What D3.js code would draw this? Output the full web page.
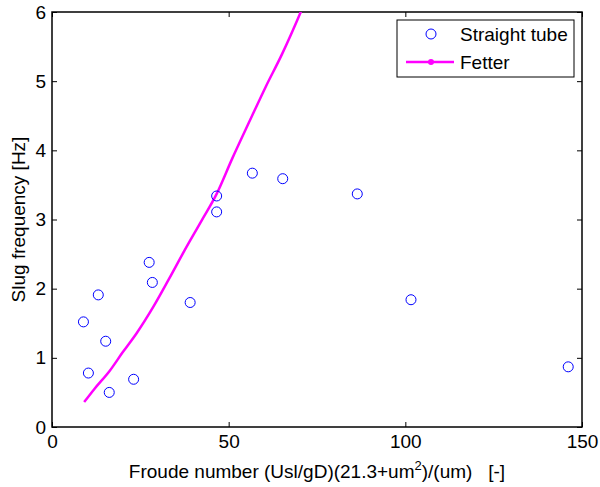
<!DOCTYPE html>
<html lang="en">
<head>
<meta charset="utf-8">
<title>Slug frequency</title>
<script src="https://d3js.org/d3.v7.min.js"></script>
<style>
  body { margin: 0; background: #fff; }
  text { font-family: "Liberation Sans", Arial, sans-serif; fill: #000; }
</style>
</head>
<body>
<script>
// measured points (Straight tube)
const froude = [8.9, 10.3, 13.1, 15.2, 16.2, 23.1, 27.5, 28.4, 39.1, 46.6, 46.6, 56.7, 65.3, 86.4, 101.6, 146.1];
const freq   = [1.52, 0.78, 1.91, 1.24, 0.50, 0.69, 2.38, 2.09, 1.80, 3.34, 3.11, 3.67, 3.59, 3.37, 1.84, 0.87];

// Fetter correlation
const fetterX = [9.1, 12, 16.3, 20, 24, 28.7, 33, 37.6, 42.3, 46.6, 51, 56, 60.5, 65, 70.4, 74];
const fetterY = [0.36, 0.55, 0.81, 1.08, 1.36, 1.74, 2.13, 2.56, 2.98, 3.37, 3.88, 4.43, 4.92, 5.38, 6.0, 6.45];

const xTicks = [0, 50, 100, 150];
const yTicks = [0, 1, 2, 3, 4, 5, 6];

const w = 600, h = 487;
const m = {left: 52, top: 12, right: 18, bottom: 60};
const fs = "19px";

const svg = d3.select("body").append("svg")
  .attr("width", w).attr("height", h);

const x = d3.scaleLinear().domain([0, 150]).range([m.left, w - m.right]);
const y = d3.scaleLinear().domain([0, 6]).range([h - m.bottom, m.top]);

// clip
svg.append("clipPath").attr("id", "clip")
  .append("rect")
  .attr("x", m.left).attr("y", m.top)
  .attr("width", x(150) - m.left).attr("height", y(0) - m.top);

// axes (ticks inward, mirrored)
const tk = 5;
const bottomAxis = d3.axisBottom(x).tickValues(xTicks).tickSizeInner(-tk).tickSizeOuter(0).tickPadding(8).tickFormat(d3.format("d"));
const topAxis = d3.axisTop(x).tickValues(xTicks).tickSizeInner(-tk).tickSizeOuter(0).tickFormat("");
const leftAxis = d3.axisLeft(y).tickValues(yTicks).tickSizeInner(-tk).tickSizeOuter(0).tickPadding(6).tickFormat(d3.format("d"));
const rightAxis = d3.axisRight(y).tickValues(yTicks).tickSizeInner(-tk).tickSizeOuter(0).tickFormat("");

function styleAxis(g) {
  g.select(".domain").remove();
  g.selectAll("line").attr("stroke", "#000").attr("stroke-width", 1);
  g.selectAll("text").style("font-size", fs).attr("fill", "#000");
}

svg.append("g").attr("transform", `translate(0,${y(0)})`).call(bottomAxis).call(styleAxis);
svg.append("g").attr("transform", `translate(0,${y(6)})`).call(topAxis).call(styleAxis);
svg.append("g").attr("transform", `translate(${x(0)},0)`).call(leftAxis).call(styleAxis);
svg.append("g").attr("transform", `translate(${x(150)},0)`).call(rightAxis).call(styleAxis);

// box
svg.append("rect")
  .attr("x", x(0)).attr("y", y(6))
  .attr("width", x(150) - x(0)).attr("height", y(0) - y(6))
  .attr("fill", "none").attr("stroke", "#000").attr("stroke-width", 1.5);

const view = svg.append("g").attr("clip-path", "url(#clip)");

// Fetter line
const fetter = fetterX.map((d, i) => [d, fetterY[i]]);
view.append("path")
  .datum(fetter)
  .attr("fill", "none")
  .attr("stroke", "#ff00ff")
  .attr("stroke-width", 2.5)
  .attr("d", d3.line().curve(d3.curveMonotoneX).x(d => x(d[0])).y(d => y(d[1])));

// points
const pts = froude.map((d, i) => ({fr: d, f: freq[i]}));
view.selectAll("circle.pt")
  .data(pts)
  .enter().append("circle")
  .attr("class", "pt")
  .attr("cx", d => x(d.fr))
  .attr("cy", d => y(d.f))
  .attr("r", 5)
  .attr("fill", "none")
  .attr("stroke", "#0000ff")
  .attr("stroke-width", 1);

// axis labels
const xl = svg.append("text")
  .attr("x", (x(0) + x(150)) / 2)
  .attr("y", 478)
  .attr("text-anchor", "middle")
  .style("font-size", fs);
xl.append("tspan").text("Froude number (Usl/gD)(21.3+um");
xl.append("tspan").attr("dy", -8).style("font-size", "13px").text("2");
xl.append("tspan").attr("dy", 8).text(")/(um)\u00a0\u00a0\u00a0[-]");

svg.append("text")
  .attr("transform", `translate(25,${(y(0) + y(6)) / 2}) rotate(-90)`)
  .attr("text-anchor", "middle")
  .style("font-size", fs)
  .text("Slug frequency [Hz]");

// legend
const lg = svg.append("g").attr("transform", "translate(397,20)");
lg.append("rect")
  .attr("width", 177).attr("height", 57)
  .attr("fill", "#fff").attr("stroke", "#000").attr("stroke-width", 1);
lg.append("circle")
  .attr("cx", 34).attr("cy", 14).attr("r", 5)
  .attr("fill", "none").attr("stroke", "#0000ff");
lg.append("text").attr("x", 63).attr("y", 21).style("font-size", fs).text("Straight tube");
lg.append("line")
  .attr("x1", 9).attr("x2", 57).attr("y1", 42).attr("y2", 42)
  .attr("stroke", "#ff00ff").attr("stroke-width", 2.5);
lg.append("circle")
  .attr("cx", 34).attr("cy", 42).attr("r", 3).attr("fill", "#ff00ff");
lg.append("text").attr("x", 63).attr("y", 49).style("font-size", fs).text("Fetter");
</script>
</body>
</html>
